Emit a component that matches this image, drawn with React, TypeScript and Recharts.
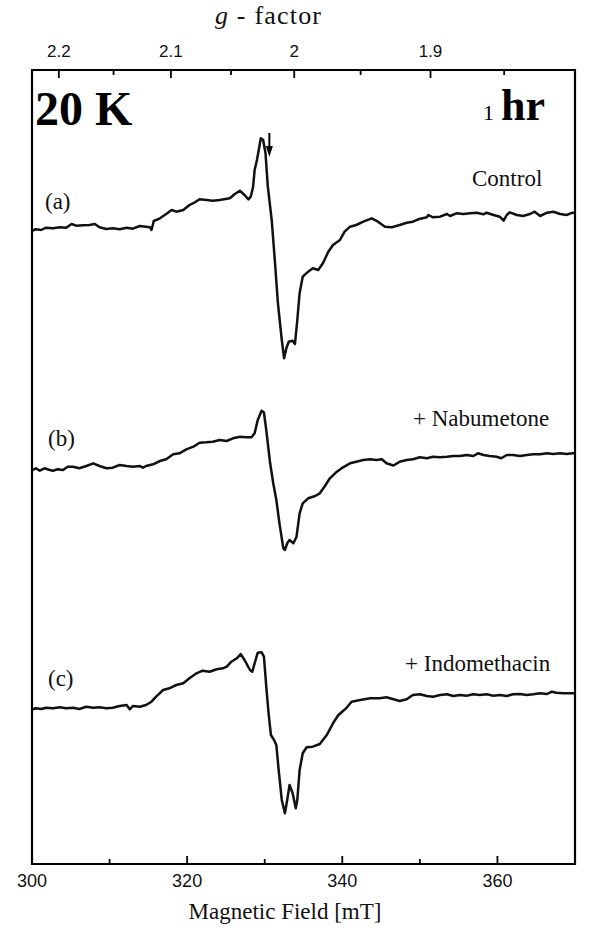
import React from 'react';
import { ComposedChart, Line, XAxis, YAxis, Scatter, ReferenceArea } from 'recharts';

// ---- axes ----
const FIELD_DOMAIN: [number, number] = [300, 370];
const fieldTicks = [300, 310, 320, 330, 340, 350, 360];
const fieldLabelTicks = [300, 320, 340, 360];
const gTicks = [2.2, 2.15, 2.1, 2.05, 2.0, 1.95, 1.9, 1.85];
const gLabelTicks = [2.2, 2.1, 2.0, 1.9];
const MW_GHZ = 9.344; // microwave frequency for g <-> field conversion
const fieldForG = (g: number) => (71.4477 * MW_GHZ) / g;
const gForField = (b: number) => Math.round(((71.4477 * MW_GHZ) / b) * 100) / 100;

// ---- vertical offsets of the stacked spectra (arbitrary units) ----
const offsetA = 634;
const offsetB = 394;
const offsetC = 155;
const Y_DOMAIN: [number, number] = [0, 794];

// ---- spectra: [field mT, signal a.u.] ----
const traceA: [number, number][] = [
  [300.0, -0.7], [300.5, 0.7], [301.2, 0], [301.8, 2.3], [302.7, 1.7], [303.6, 2.7], [304.4, 2.3], [305.1, 6], [305.7, 4.3],
  [306.6, 4.7], [307.4, 5], [308.1, 6], [308.7, 2.7], [309.6, 1], [310.4, 1.7], [311.3, 0.7], [312.2, 2.3], [313.0, 1.3],
  [313.9, 4], [314.7, 3.3], [315.2, 2.7], [315.4, 0], [315.7, 9], [316.5, 11.7], [317.3, 16], [318.0, 20], [318.6, 18.3],
  [319.5, 20], [320.3, 25], [321.0, 27.7], [321.6, 30.7], [322.5, 30], [323.3, 29.3], [324.2, 30], [325.5, 31.7], [326.1, 35.7],
  [326.8, 39.3], [327.4, 35], [327.9, 30.7], [328.2, 33.3], [328.5, 43], [328.7, 60], [329.0, 70], [329.5, 91.7], [329.8, 90],
  [330.1, 77], [330.4, 43.3], [330.9, 10], [331.3, -30], [331.7, -73], [332.2, -110], [332.5, -128.3], [332.8, -118],
  [333.1, -111.7], [333.6, -110.7], [333.9, -114], [334.2, -90], [334.5, -63], [334.9, -46.7], [335.6, -41.7], [336.2, -38.3],
  [336.9, -40], [337.5, -33.3], [338.2, -21.7], [338.8, -15], [339.7, -10], [340.3, -1.7], [341.0, 3.3], [341.8, 5], [342.7, 8.3],
  [343.8, 11.7], [344.6, 8.3], [345.5, 3.3], [346.4, 2.7], [347.4, 5], [348.3, 7.3], [349.1, 8.3], [349.8, 10.7], [350.9, 12.7],
  [351.1, 15], [351.7, 12.7], [352.6, 13.3], [353.5, 16], [353.9, 14], [354.7, 16.7], [355.6, 16], [356.5, 16.7], [357.3, 17.3],
  [358.2, 15.7], [358.6, 17.3], [359.5, 15], [360.3, 13.3], [360.8, 9.3], [361.2, 15], [361.6, 17.7], [362.5, 15], [363.3, 14],
  [364.2, 16], [364.8, 18.3], [365.5, 14], [366.4, 17.3], [367.2, 18.3], [368.1, 16], [368.9, 15], [369.7, 17.3], [370.0, 17],
];

const traceB: [number, number][] = [
  [300.1, 0], [300.5, 1.7], [301.0, -0.7], [301.6, 1.7], [302.3, 0], [302.7, -0.7], [303.3, 0.7], [304.0, 0], [304.6, 3.3],
  [305.3, 3.3], [306.1, 1.7], [307.0, 4], [307.9, 6.7], [308.7, 4], [309.6, 1.7], [310.4, 2.3], [311.3, 5], [312.2, 4],
  [313.0, 3.3], [313.9, 4], [314.3, 2.3], [314.7, 4], [315.6, 5.7], [316.5, 9], [317.3, 10.7], [318.2, 15.7], [319.0, 16.7],
  [319.9, 20.7], [320.8, 23.3], [321.6, 27.3], [322.5, 27.7], [323.3, 28.3], [324.2, 30], [325.1, 29], [325.9, 31.7],
  [326.8, 33.3], [327.6, 32.7], [328.3, 32.7], [328.7, 36.7], [329.1, 50], [329.6, 59.3], [329.9, 57.5], [330.2, 40],
  [330.7, 6.7], [331.1, -13.3], [331.5, -30], [331.9, -53.3], [332.4, -78.3], [332.6, -80], [332.9, -73.3], [333.2, -70],
  [333.7, -73.3], [334.1, -66.7], [334.5, -43.3], [334.9, -33.3], [335.6, -28.3], [336.5, -26], [337.1, -23.3], [337.7, -16.7],
  [338.4, -8.3], [339.3, -1.7], [340.1, 2.7], [341.0, 6.7], [341.8, 8.3], [342.7, 10], [343.6, 10.7], [344.4, 10], [345.1, 10.7],
  [345.7, 6.7], [346.6, 4.5], [347.4, 8.3], [348.3, 10], [349.1, 10.7], [350.0, 12.7], [350.9, 11.7], [351.7, 13.3],
  [352.6, 12.7], [353.5, 13.3], [354.3, 14], [355.2, 14], [356.0, 15], [356.9, 14], [357.5, 16.7], [358.2, 15], [359.0, 14],
  [359.9, 13.3], [360.5, 11.7], [361.2, 15], [362.0, 15], [362.9, 14], [363.8, 15], [364.6, 15.7], [365.5, 15.7], [366.4, 16.7],
  [367.2, 16], [368.1, 16.7], [368.9, 16], [369.7, 16.7], [370.0, 16.7],
];

const traceC: [number, number][] = [
  [300.1, -0.3], [300.5, 0.7], [301.2, 0], [301.8, 1.3], [302.7, 0.7], [303.6, 1.7], [304.4, 0.7], [305.3, 1.3], [306.1, 0],
  [307.0, 2.3], [307.9, 1.3], [308.7, 1.7], [309.6, 0.7], [310.4, 1.3], [311.3, 3], [312.2, 4], [312.6, -0.3], [313.0, 3],
  [313.9, 2.3], [314.7, 4], [315.4, 7.3], [316.0, 12.3], [316.9, 19], [317.7, 20.7], [318.6, 24], [319.5, 25.7], [320.3, 30.7],
  [321.2, 35.7], [322.0, 38.3], [322.9, 37.3], [323.8, 39.7], [324.6, 40.7], [325.1, 42.3], [325.7, 47.3], [326.4, 50.7],
  [326.9, 55], [327.4, 49], [328.1, 39], [328.4, 37.3], [328.7, 45.7], [329.1, 56.3], [329.6, 56.7], [329.9, 52.3],
  [330.2, 22.3], [330.5, -4.3], [330.8, -26], [331.2, -31], [331.5, -36], [331.8, -61], [332.2, -91], [332.6, -104.3],
  [332.9, -91], [333.2, -76], [333.6, -84.3], [334.0, -99.3], [334.2, -91], [334.5, -61], [334.9, -44.3], [335.4, -38.3],
  [336.2, -37.7], [337.1, -35], [338.0, -26], [338.8, -14.3], [339.5, -6], [340.5, 0.7], [341.2, 7.3], [342.3, 9], [343.6, 10.7],
  [344.8, 10.7], [345.7, 11.7], [346.6, 9.7], [347.4, 8], [348.3, 9.7], [349.1, 14], [350.0, 14.7], [350.9, 13], [351.7, 12.3],
  [352.6, 14], [353.5, 14.7], [354.3, 13], [355.2, 14], [356.0, 13.3], [356.9, 14.7], [357.7, 14], [358.6, 14.7], [359.5, 13.3],
  [360.3, 14], [361.2, 13], [362.0, 14.7], [362.9, 15], [363.8, 14], [364.6, 14.7], [365.5, 15.7], [366.4, 15], [367.0, 17.3],
  [367.6, 16.3], [368.5, 15.7], [369.7, 15.7], [370.0, 15.7],
];

// arrow marking g ~ 2.02 on trace (a): [field, height above baseline]
const arrowMark: [number, number] = [330.6, 73];

const toRows = (t: [number, number][], off: number) => t.map(([f, s]) => ({ f, v: off + s }));
const rowsA = toRows(traceA, offsetA);
const rowsB = toRows(traceB, offsetB);
const rowsC = toRows(traceC, offsetC);
const arrowRows = [{ f: arrowMark[0], v: offsetA + arrowMark[1] }];

const SANS = "'Liberation Sans', Arial, sans-serif";
const SERIF = "'Liberation Serif', 'Times New Roman', serif";

const BottomTick = (props: any) => {
  const { x, y, payload } = props;
  const val = payload.value;
  const major = fieldLabelTicks.includes(val);
  return (
    <g>
      <line x1={x} y1={y} x2={x} y2={y - (major ? 8 : 5)} stroke="#000" strokeWidth={1.8} />
      {major && (
        <text x={x} y={y + 23} textAnchor="middle" fontFamily={SANS} fontSize={18} fill="#111">
          {val}
        </text>
      )}
    </g>
  );
};

const TopTick = (props: any) => {
  const { x, y, payload } = props;
  const g = gForField(payload.value);
  const major = gLabelTicks.some((t) => Math.abs(t - g) < 0.001);
  return (
    <g>
      <line x1={x} y1={y} x2={x} y2={y + (major ? 8 : 5)} stroke="#000" strokeWidth={1.8} />
      {major && (
        <text x={x} y={y - 13} textAnchor="middle" fontFamily={SANS} fontSize={17} fill="#111">
          {String(g)}
        </text>
      )}
    </g>
  );
};

const ArrowShape = (props: any) => {
  const { cx, cy } = props;
  return (
    <g>
      <line x1={cx} y1={cy - 24} x2={cx} y2={cy - 9} stroke="#000" strokeWidth={2} />
      <path d={`M${cx - 3.5},${cy - 11} L${cx + 3.5},${cy - 11} L${cx},${cy} Z`} fill="#000" />
    </g>
  );
};

export default function App() {
  return (
    <div style={{ position: 'absolute', left: 0, top: 0, width: 600, height: 930, background: '#fff' }}>
      <ComposedChart width={600} height={930} margin={{ top: 0, right: 25, bottom: 0, left: 32 }}>
        <XAxis
          xAxisId="f"
          dataKey="f"
          type="number"
          domain={FIELD_DOMAIN}
          ticks={fieldTicks}
          interval={0}
          orientation="bottom"
          height={66}
          axisLine={false}
          tickLine={false}
          tickSize={0}
          tickMargin={0}
          tick={<BottomTick />}
          allowDataOverflow
        />
        <XAxis
          xAxisId="g"
          dataKey="f"
          type="number"
          domain={FIELD_DOMAIN}
          ticks={gTicks.map(fieldForG)}
          interval={0}
          orientation="top"
          height={70}
          axisLine={false}
          tickLine={false}
          tickSize={0}
          tickMargin={0}
          tick={<TopTick />}
          allowDataOverflow
        />
        <YAxis type="number" domain={Y_DOMAIN} hide width={0} allowDataOverflow />
        <ReferenceArea
          xAxisId="f"
          x1={FIELD_DOMAIN[0]}
          x2={FIELD_DOMAIN[1]}
          y1={Y_DOMAIN[0]}
          y2={Y_DOMAIN[1]}
          fill="none"
          stroke="#000"
          strokeWidth={2.2}
          ifOverflow="visible"
        />
        <Line xAxisId="f" data={rowsA} dataKey="v" type="linear" stroke="#111" strokeWidth={2.5} strokeLinejoin="round" dot={false} isAnimationActive={false} />
        <Line xAxisId="f" data={rowsB} dataKey="v" type="linear" stroke="#111" strokeWidth={2.5} strokeLinejoin="round" dot={false} isAnimationActive={false} />
        <Line xAxisId="f" data={rowsC} dataKey="v" type="linear" stroke="#111" strokeWidth={2.5} strokeLinejoin="round" dot={false} isAnimationActive={false} />
        <Scatter xAxisId="g" data={arrowRows} dataKey="v" shape={<ArrowShape />} isAnimationActive={false} />
      </ComposedChart>
      <svg width={600} height={930} style={{ position: 'absolute', left: 0, top: 0, pointerEvents: 'none' }}>
        <text x={268} y={24} textAnchor="middle" fontFamily={SERIF} fontSize={26} fill="#111" textLength={106} lengthAdjust="spacing">
          <tspan fontStyle="italic">g</tspan> - factor
        </text>
        <text x={35} y={125} fontFamily={SERIF} fontWeight="bold" fontSize={48} fill="#000">20 K</text>
        <text x={483} y={120} fontFamily={SERIF} fontSize={22} fill="#000">1</text>
        <text x={501} y={120} fontFamily={SERIF} fontWeight="bold" fontSize={44} fill="#000">hr</text>
        <text x={45} y={209} fontFamily={SERIF} fontSize={23} fill="#111">(a)</text>
        <text x={472} y={186} fontFamily={SERIF} fontSize={23} fill="#111">Control</text>
        <text x={48} y={446} fontFamily={SERIF} fontSize={23} fill="#111">(b)</text>
        <text x={413} y={426} fontFamily={SERIF} fontSize={23} fill="#111">+ Nabumetone</text>
        <text x={48} y={686} fontFamily={SERIF} fontSize={23} fill="#111">(c)</text>
        <text x={405} y={671} fontFamily={SERIF} fontSize={23} fill="#111">+ Indomethacin</text>
        <text x={285} y={919} textAnchor="middle" fontFamily={SERIF} fontSize={23} fill="#111">Magnetic Field [mT]</text>
      </svg>
    </div>
  );
}
